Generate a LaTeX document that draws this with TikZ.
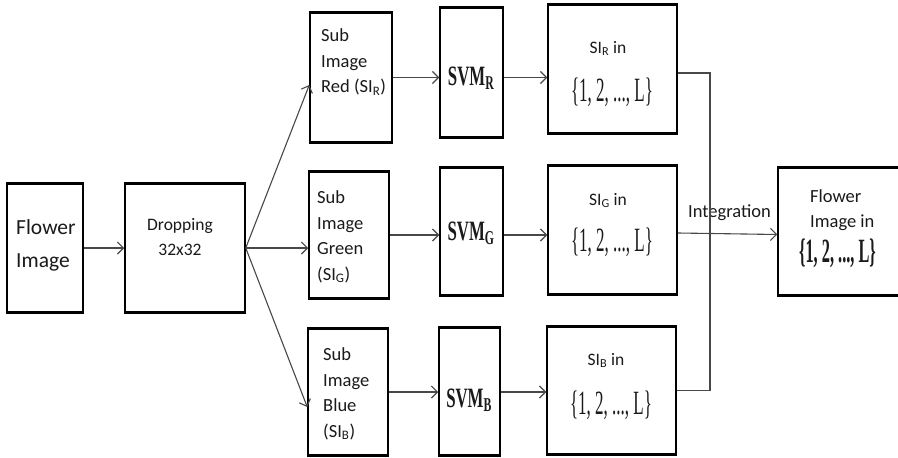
\documentclass[tikz,border=0pt]{standalone}
\usepackage{fontspec}
\setmainfont{Carlito}
\newfontfamily\tmsfont{Liberation Serif}
\usepackage{graphicx}
\usetikzlibrary{arrows.meta}
\definecolor{txtc}{HTML}{1A1A1A}
\definecolor{connc}{HTML}{484848}
\newcommand\mysetL{{\tmsfont\fontsize{34}{34}\selectfont\scalebox{0.5}[1]{\{1, 2, ..., L\}}}}
\newcommand\mysetLb{{\tmsfont\bfseries\fontsize{34}{34}\selectfont\scalebox{0.48}[1]{\{1, 2, ..., L\}}}}
\newcommand\mysvm[1]{{\tmsfont\bfseries\fontsize{28}{28}\selectfont\scalebox{0.6}[1]{SVM\textsubscript{#1}}}}
\begin{document}
\begin{tikzpicture}[x=1pt,y=-1pt,
  box/.style={draw=black, line width=1.5pt, inner sep=0pt,
    append after command={(\tikzlastnode.north west) edge[draw=black,line width=2.6pt] (\tikzlastnode.north east)
      (\tikzlastnode.south west) edge[draw=black,line width=2.6pt] (\tikzlastnode.south east)}},
  conn/.style={draw=connc, line width=1.1pt, -{Straight Barb[length=6pt,width=12pt]}},
  plain/.style={draw=connc, line width=1.1pt},
  txt/.style={text=txtc, inner sep=0pt, align=left},
  fA/.style={font=\fontsize{18.5}{25.5}\selectfont},
]
\useasboundingbox (0,0) rectangle (898,458);
\fill[white] (0,0) rectangle (898,458);

% boxes
\node[box, minimum width=76, minimum height=128] (flower) at (45,248) {};
\node[box, minimum width=120, minimum height=128] (drop) at (185,248) {};
\node[box, minimum width=82, minimum height=129] (subR) at (351,77.5) {};
\node[box, minimum width=80, minimum height=126] (subG) at (349,235) {};
\node[box, minimum width=80, minimum height=126] (subB) at (348,392) {};
\node[box, minimum width=63, minimum height=129] (svmR) at (471.5,72.5) {};
\node[box, minimum width=63, minimum height=127] (svmG) at (471.5,231.5) {};
\node[box, minimum width=61, minimum height=127] (svmB) at (469.5,391.5) {};
\node[box, minimum width=129, minimum height=128] (siR) at (612.5,69) {};
\node[box, minimum width=129, minimum height=128] (siG) at (612.5,230) {};
\node[box, minimum width=129, minimum height=127] (siB) at (611.5,390.5) {};
\node[box, minimum width=121, minimum height=127] (final) at (838.5,231.5) {};

% texts
\node[txt, anchor=west, font=\fontsize{21.5}{33}\selectfont] (tflower) at (16,245) {Flower\\Image};
\node[txt, align=center, font=\fontsize{17.5}{25}\selectfont] (tdrop) at (180,237) {Dropping\\ 32x32};
\node[txt, anchor=west, fA] (tsubR) at (321,62) {Sub\\Image\\Red (SI\textsubscript{R})};
\node[txt, anchor=west, fA] (tsubG) at (317,237) {Sub\\Image\\Green\\(SI\textsubscript{G})};
\node[txt, anchor=west, fA] (tsubB) at (323,394) {Sub\\Image\\Blue\\(SI\textsubscript{B})};
\node[txt, anchor=base] (tsvmR) at (471,85) {\mysvm{R}};
\node[txt, anchor=base] (tsvmG) at (471,240) {\mysvm{G}};
\node[txt, anchor=base] (tsvmB) at (469,407) {\mysvm{B}};
\node[txt, anchor=base, font=\fontsize{17.5}{20}\selectfont] (tsiR) at (608,53) {SI\textsubscript{R} in};
\node[txt, anchor=base, font=\fontsize{17.5}{20}\selectfont] (tsiG) at (608,205) {SI\textsubscript{G} in};
\node[txt, anchor=base, font=\fontsize{17.5}{20}\selectfont] (tsiB) at (606,365) {SI\textsubscript{B} in};
\node[txt] (setR) at (612,92) {\mysetL};
\node[txt] (setG) at (612,242) {\mysetL};
\node[txt] (setB) at (611,405) {\mysetL};
\node[txt, anchor=west, font=\fontsize{18.5}{25}\selectfont] (tfinal) at (810,210) {Flower\\Image in};
\node[txt] (setF) at (837.5,253) {\mysetLb};
\node[txt, anchor=base, font=\fontsize{18.5}{20}\selectfont] (integ) at (729.5,217) {Integration};

% connectors
\draw[conn] (flower) -- (drop);
\draw[conn] (drop.east) -- ([yshift=-7.5pt]subR.west);
\draw[conn] (drop.east) -- (drop.east -| subG.west);
\draw[conn] (drop.east) -- ([yshift=-15pt]subB.west);
\draw[conn] (subR.east) -- (svmR.west |- subR.east);
\draw[conn] (subG.east) -- (svmG.west |- subG.east);
\draw[conn] (subB.east) -- (svmB.west |- subB.east);
\draw[conn] (svmR.east |- subR.east) -- (siR.west |- subR.east);
\draw[conn] (svmG.east |- subG.east) -- (siG.west |- subG.east);
\draw[conn] (svmB.east |- subB.east) -- (siB.west |- subB.east);
\coordinate (jx) at (710,230);
\draw[plain] ([yshift=-4pt]siR.east) -| (jx) |- (siB.east);
\draw[conn] ([yshift=-3pt]siG.east) -- ([yshift=-3pt]final.west);
\end{tikzpicture}
\end{document}
